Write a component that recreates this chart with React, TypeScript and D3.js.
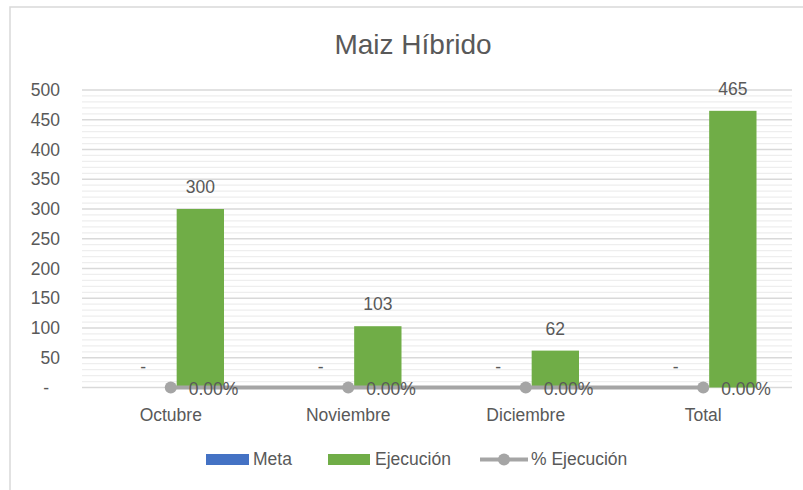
import React from "react";
import * as d3 from "d3";

const categories = ["Octubre", "Noviembre", "Diciembre", "Total"];
const meta = [0, 0, 0, 0];
const ejecucion = [300, 103, 62, 465];
const pctEjecucion = [0, 0, 0, 0];
const yTicks = [0, 50, 100, 150, 200, 250, 300, 350, 400, 450, 500];
const seriesNames = ["Meta", "Ejecución"];

const W = 803;
const H = 490;
const margin = { top: 90, right: 11, bottom: 102.5, left: 82 };
const font = "'Liberation Sans', Arial, sans-serif";
const textColor = "#595959";
const colors = { meta: "#4472C4", ejec: "#70AD47", pct: "#A5A5A5" };
const fs = 17.5;

const App = () => {
  const x = d3
    .scaleBand<string>()
    .domain(categories)
    .range([margin.left, W - margin.right]);
  const bw = x.bandwidth();
  const x1 = d3
    .scaleBand<string>()
    .domain(seriesNames)
    .range([bw * 0.2, bw * 0.8])
    .paddingInner(0.2);
  const y = d3
    .scaleLinear()
    .domain([0, 500])
    .range([H - margin.bottom, margin.top]);
  const minorTicks = d3.range(0, 501, 10).filter((v) => v % 50 !== 0);
  const cx = (c: string) => (x(c) ?? 0) + bw / 2;

  const pctLine = d3
    .line<number>()
    .x((_, i) => cx(categories[i]))
    .y((v) => y(v));

  const fmtTick = (v: number) => (v === 0 ? "-" : d3.format(",")(v));

  return (
    <svg
      width={W}
      height={H}
      style={{ position: "absolute", left: 0, top: 0, background: "#fff" }}
      fontFamily={font}
    >
      {/* chart frame */}
      <path d={`M10,${H} V7 H${W}`} fill="none" stroke="#d9d9d9" strokeWidth={1.5} />

      <text x={413} y={54} textAnchor="middle" fontSize={28} fill={textColor}>
        Maiz Híbrido
      </text>

      {/* gridlines */}
      {minorTicks.map((v) => (
        <line key={"m" + v} x1={margin.left} x2={W - margin.right} y1={y(v)} y2={y(v)} stroke="#eeeeee" strokeWidth={1.3} />
      ))}
      {yTicks.map((v) => (
        <line key={"g" + v} x1={margin.left} x2={W - margin.right} y1={y(v)} y2={y(v)} stroke="#d9d9d9" strokeWidth={1.3} />
      ))}
      {yTicks.map((v) => (
        <text
          key={"t" + v}
          x={v === 0 ? 49 : 60}
          y={y(v) + 6}
          textAnchor="end"
          fontSize={fs}
          fill={textColor}
        >
          {fmtTick(v)}
        </text>
      ))}

      {/* bars */}
      {categories.map((c, i) => (
        <g key={c} transform={`translate(${x(c)},0)`}>
          <rect x={x1("Meta")} width={x1.bandwidth()} y={y(meta[i])} height={y(0) - y(meta[i])} fill={colors.meta} />
          <rect x={x1("Ejecución")} width={x1.bandwidth()} y={y(ejecucion[i])} height={y(0) - y(ejecucion[i])} fill={colors.ejec} />
          <text x={(x1("Meta") ?? 0) + x1.bandwidth() / 2 + 2} y={y(meta[i]) - 15} textAnchor="middle" fontSize={fs} fill={textColor}>
            -
          </text>
          <text x={(x1("Ejecución") ?? 0) + x1.bandwidth() / 2} y={y(ejecucion[i]) - 16} textAnchor="middle" fontSize={fs} fill={textColor}>
            {ejecucion[i]}
          </text>
        </g>
      ))}

      {/* % ejecución line */}
      <path d={pctLine(pctEjecucion) ?? ""} fill="none" stroke={colors.pct} strokeWidth={4} />
      {pctEjecucion.map((v, i) => (
        <g key={"p" + i}>
          <circle cx={cx(categories[i])} cy={y(v)} r={6} fill={colors.pct} />
          <text x={cx(categories[i]) + 18} y={y(v) + 7} fontSize={fs} fill={textColor}>
            {d3.format(".2%")(v)}
          </text>
        </g>
      ))}

      {/* category labels */}
      {categories.map((c) => (
        <text key={"c" + c} x={cx(c)} y={421} textAnchor="middle" fontSize={fs} fill={textColor}>
          {c}
        </text>
      ))}

      {/* legend */}
      <g fontSize={fs} fill={textColor}>
        <rect x={206} y={454} width={43} height={11} fill={colors.meta} />
        <text x={253} y={465}>Meta</text>
        <rect x={328} y={454} width={42} height={11} fill={colors.ejec} />
        <text x={375} y={465}>Ejecución</text>
        <line x1={480} x2={528} y1={459.5} y2={459.5} stroke={colors.pct} strokeWidth={4} />
        <circle cx={504} cy={459.5} r={6} fill={colors.pct} />
        <text x={531} y={465}>% Ejecución</text>
      </g>
    </svg>
  );
};

export default App;
